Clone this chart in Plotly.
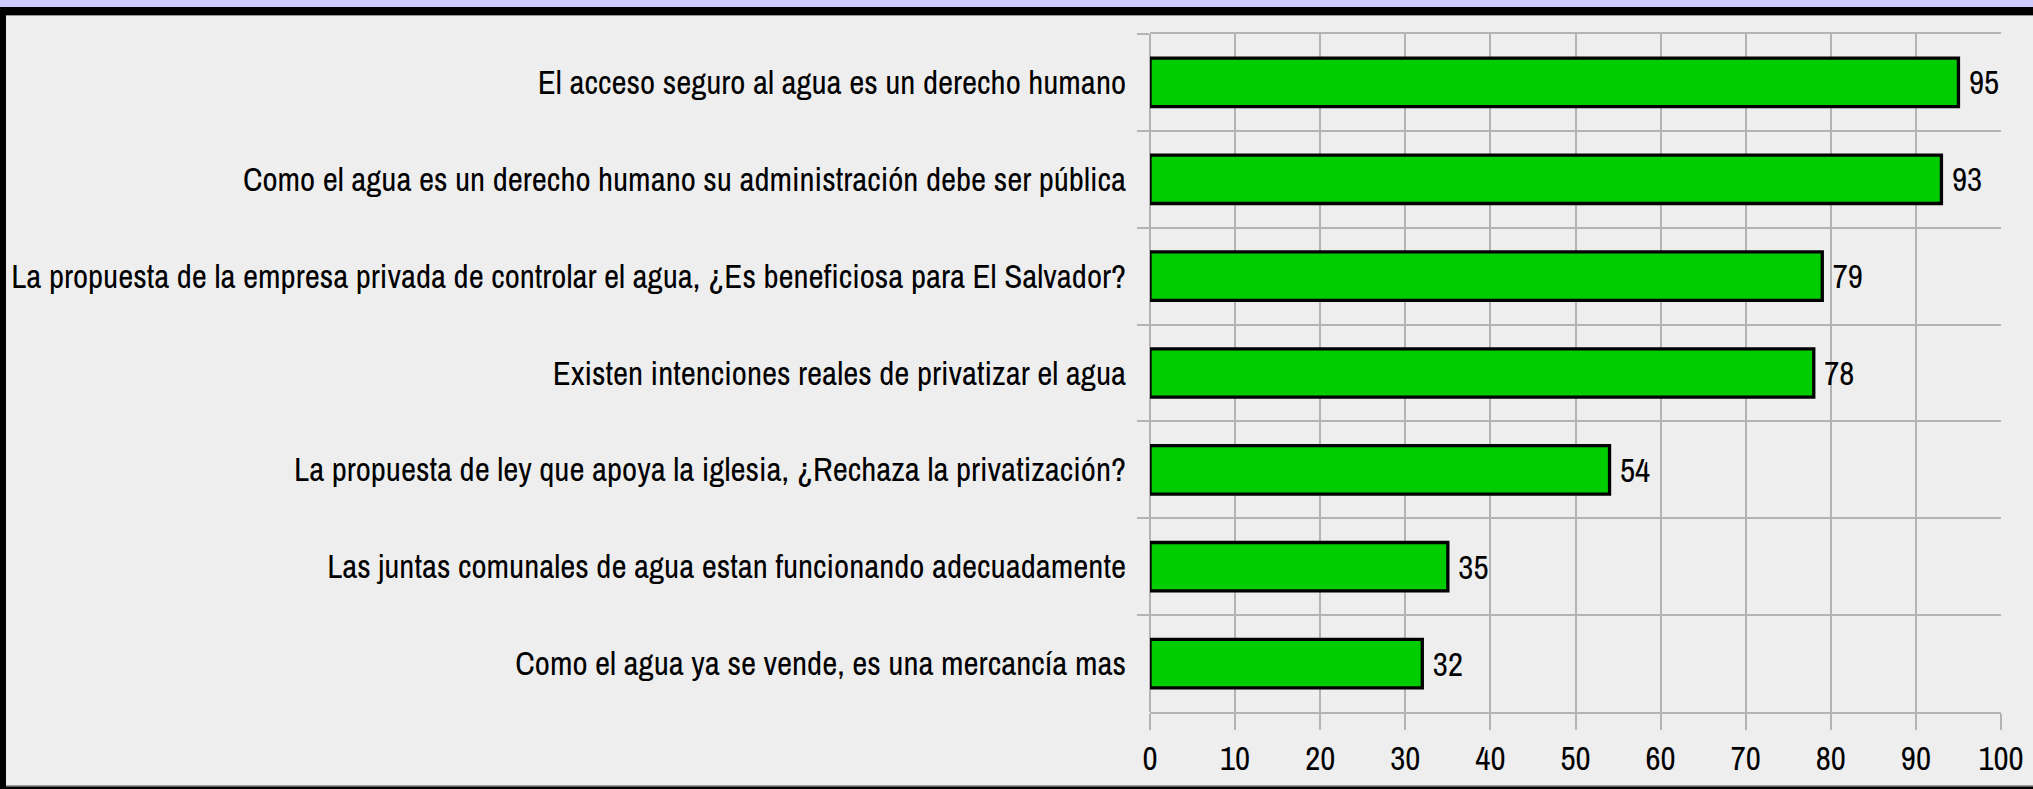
import plotly.graph_objects as go

categories = [
    "El acceso seguro al agua es un derecho humano",
    "Como el agua es un derecho humano su administración debe ser pública",
    "La propuesta de la empresa privada de controlar el agua, ¿Es beneficiosa para El Salvador?",
    "Existen intenciones reales de privatizar el agua",
    "La propuesta de ley que apoya la iglesia, ¿Rechaza la privatización?",
    "Las juntas comunales de agua estan funcionando adecuadamente",
    "Como el agua ya se vende, es una mercancía mas",
]
values = [95, 93, 79, 78, 54, 35, 32]
x_ticks = [0, 10, 20, 30, 40, 50, 60, 70, 80, 90, 100]

FONT = "Archivo Narrow, Liberation Sans, Arial, sans-serif"
FSIZE = 33
GRID = "#b3b3b3"

W_PX, H_PX = 2033, 789
L, R, T, B = 1150, 32, 34, 77
PW = W_PX - L - R
PH = H_PX - T - B


def xp(px):
    return (px - L) / PW


def yp(py):
    return (H_PX - B - py) / PH


fig = go.Figure(
    go.Bar(
        x=values,
        y=categories,
        orientation="h",
        width=0.5,
        marker=dict(color="#00cc00", line=dict(color="#000000", width=3.3)),
        texttemplate="\u00a0%{x}",
        textposition="outside",
        textfont=dict(family=FONT, size=FSIZE, color="#000000"),
        cliponaxis=False,
    )
)

shapes = [
    dict(type="rect", xref="paper", yref="paper", x0=xp(0), x1=xp(W_PX), y0=yp(0), y1=yp(7),
         fillcolor="#ccccff", line=dict(width=0), layer="above"),
    dict(type="rect", xref="paper", yref="paper", x0=xp(0), x1=xp(W_PX), y0=yp(7), y1=yp(15),
         fillcolor="#000000", line=dict(width=0), layer="above"),
    dict(type="rect", xref="paper", yref="paper", x0=xp(6), x1=xp(W_PX), y0=yp(15), y1=yp(16),
         fillcolor="#999999", line=dict(width=0), layer="above"),
    dict(type="rect", xref="paper", yref="paper", x0=xp(0), x1=xp(6), y0=yp(7), y1=yp(H_PX),
         fillcolor="#000000", line=dict(width=0), layer="above"),
    dict(type="rect", xref="paper", yref="paper", x0=xp(6), x1=xp(W_PX), y0=yp(785), y1=yp(786.5),
         fillcolor="#999999", line=dict(width=0), layer="above"),
    dict(type="rect", xref="paper", yref="paper", x0=xp(0), x1=xp(W_PX), y0=yp(786.5), y1=yp(H_PX),
         fillcolor="#000000", line=dict(width=0), layer="above"),
]

fig.update_layout(
    width=W_PX,
    height=H_PX,
    margin=dict(l=L, r=R, t=T, b=B, autoexpand=False),
    paper_bgcolor="#eeeeee",
    plot_bgcolor="#eeeeee",
    showlegend=False,
    shapes=shapes,
    font=dict(family=FONT, size=FSIZE, color="#000000"),
    xaxis=dict(
        range=[0, 100],
        tickvals=x_ticks,
        showgrid=True,
        gridcolor=GRID,
        gridwidth=2,
        zeroline=True,
        zerolinecolor=GRID,
        zerolinewidth=2,
        showline=True,
        linecolor=GRID,
        linewidth=2,
        mirror=True,
        ticks="outside",
        ticklen=16,
        tickwidth=2,
        tickcolor=GRID,
        tickfont=dict(family=FONT, size=FSIZE, color="#000000"),
        fixedrange=True,
    ),
    yaxis=dict(
        autorange="reversed",
        type="category",
        tickson="boundaries",
        showgrid=True,
        gridcolor=GRID,
        gridwidth=2,
        showline=False,
        ticks="outside",
        ticklen=12,
        tickwidth=2,
        tickcolor=GRID,
        tickfont=dict(family=FONT, size=FSIZE, color="#000000"),
        ticklabelstandoff=23,
        fixedrange=True,
    ),
)

fig.write_html(
    "out.html",
    config={"displayModeBar": False},
    post_script="document.body.style.margin='0';document.body.style.overflow='hidden';",
)
